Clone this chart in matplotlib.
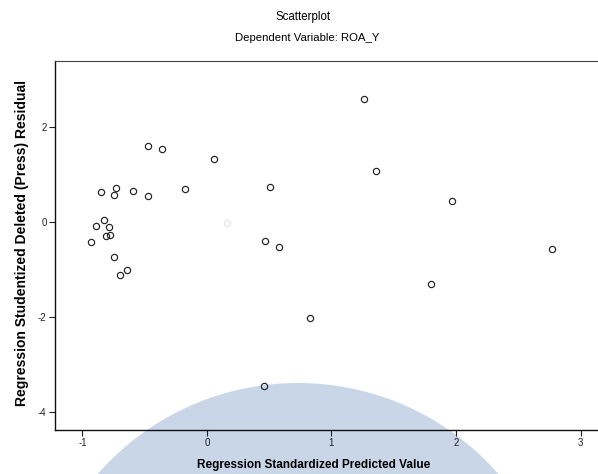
import numpy as np
import matplotlib
matplotlib.use('Agg')
import matplotlib.pyplot as plt
from matplotlib.patches import Ellipse

plt.rcParams['font.family'] = ['Liberation Sans', 'DejaVu Sans']
plt.rcParams['axes.unicode_minus'] = False

# predicted (x) vs studentized deleted residual (y)
pred = [-0.85, -0.73, -0.75, -0.59, -0.47, -0.47, -0.36, -0.18,
        -0.83, -0.89, -0.79, -0.81, -0.78, -0.93, -0.75, -0.70, -0.64,
        0.06, 0.51, 0.47, 0.58,
        1.26, 1.36, 1.97,
        0.83, 1.80, 0.46, 2.77]
resid = [0.64, 0.71, 0.57, 0.65, 0.55, 1.59, 1.53, 0.69,
         0.04, -0.08, -0.10, -0.29, -0.27, -0.43, -0.73, -1.12, -1.02,
         1.32, 0.74, -0.41, -0.53,
         2.59, 1.07, 0.45,
         -2.03, -1.31, -3.45, -0.57]
faint_pt = (0.16, -0.03)

x_ticks = [-1, 0, 1, 2, 3]
y_ticks = [-4, -2, 0, 2]

W, H = 598, 474
fig = plt.figure(figsize=(W / 100, H / 100), dpi=100)

# watermark disc behind everything (pixel sizes -> figure fractions)
wm = Ellipse((298 / W, 1 - 649 / H), 2 * 266 / W, 2 * 266 / H, transform=fig.transFigure,
             facecolor='#c9d6e8', edgecolor='none', zorder=-5)
fig.patches.append(wm)

ax = fig.add_axes([55 / W, 1 - 430 / H, 1 - 55 / W, (430 - 61) / H])
ax.set_facecolor('none')
ax.set_zorder(2)

ax.plot(pred, resid, 'o', mfc='none', mec='#222222', ms=4.5, mew=0.85)
ax.plot([faint_pt[0]], [faint_pt[1]], 'o', mfc='none', mec='#dddddd', ms=4.5, mew=0.6)

ax.set_xlim(-1.22, 3.14)
ax.set_ylim(-4.38, 3.39)
ax.set_xticks(x_ticks)
ax.set_yticks(y_ticks)
ax.tick_params(labelsize=7, length=4, width=0.8, pad=2, colors='#222222')

for s in ['left', 'bottom']:
    ax.spines[s].set_linewidth(1.0)
    ax.spines[s].set_color('#111111')
ax.spines['top'].set_linewidth(0.8)
ax.spines['top'].set_color('#444444')
ax.spines['right'].set_visible(False)

fig.text(0.507, 0.964, 'Scatterplot', ha='center', va='center', fontsize=8.3)
fig.text(0.513, 0.92, 'Dependent Variable: ROA_Y', ha='center', va='center', fontsize=8.2)
fig.text(314 / W, 0.019, 'Regression Standardized Predicted Value', ha='center', va='center',
         fontsize=8.5, fontweight='bold')
fig.text(22 / W, 1 - 243 / H, 'Regression Studentized Deleted (Press) Residual', rotation=90,
         ha='center', va='center', fontsize=10, fontweight='bold')

fig.savefig('out.png', dpi=100)
